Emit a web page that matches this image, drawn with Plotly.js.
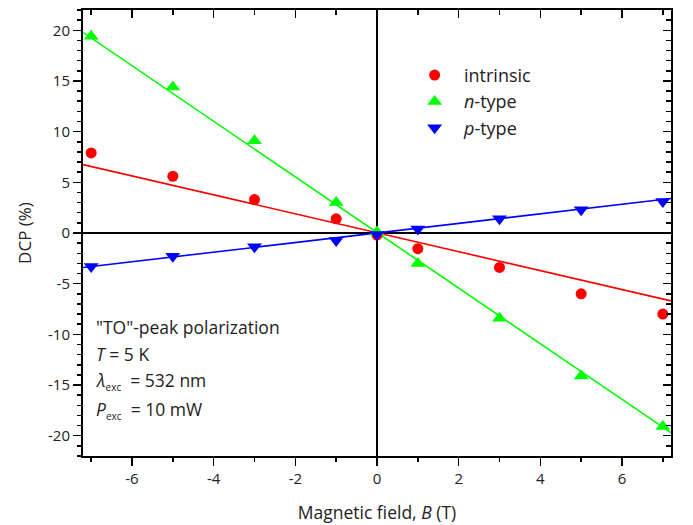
<!DOCTYPE html>
<html>
<head>
<meta charset="utf-8">
<script src="https://cdn.plot.ly/plotly-3.0.1.min.js"></script>
<style>body{margin:0;padding:0;background:#fff}#chart{width:693px;height:525px}</style>
</head>
<body>
<div id="chart"></div>
<script>
// Data
const fieldB = [-7, -5, -3, -1, 0, 1, 3, 5, 7];
const intrinsicDCP = [7.9, 5.6, 3.3, 1.4, -0.2, -1.55, -3.4, -6.0, -8.0];
const nTypeDCP = [19.4, 14.4, 9.1, 3.0, 0.1, -3.0, -8.4, -14.1, -19.1];
const pTypeDCP = [-3.3, -2.3, -1.35, -0.75, -0.15, 0.4, 1.4, 2.3, 3.1];
// linear fit lines (end points)
const fitB = [-7.2, 7.2];
const intrinsicFit = [6.75, -6.7];
const nTypeFit = [19.8, -19.7];
const pTypeFit = [-3.4, 3.4];
const seriesNames = ['\u00a0\u00a0intrinsic', '\u00a0\u00a0<i>n</i>-type', '\u00a0\u00a0<i>p</i>-type'];
// tick labels (hyphen-minus as in the reference)
const xTickVals = [-6, -4, -2, 0, 2, 4, 6];
const xTickText = ['-6', '-4', '-2', '0', '2', '4', '6'];
const yTickVals = [-20, -15, -10, -5, 0, 5, 10, 15, 20];
const yTickText = ['-20', '-15', '-10', '-5', '0', '5', '10', '15', '20'];

const red = '#ff0000', green = '#00ff00', blue = '#0000ff';
const font = 'Open Sans, sans-serif';

const traces = [
  {x: fitB, y: intrinsicFit, mode: 'lines', line: {color: red, width: 1.6}, showlegend: false, hoverinfo: 'skip'},
  {x: fitB, y: nTypeFit, mode: 'lines', line: {color: green, width: 1.6}, showlegend: false, hoverinfo: 'skip'},
  {x: fitB, y: pTypeFit, mode: 'lines', line: {color: blue, width: 1.6}, showlegend: false, hoverinfo: 'skip'},
  {x: fieldB, y: intrinsicDCP, mode: 'markers', name: seriesNames[0], marker: {symbol: 'circle', size: 11, color: red}},
  {x: fieldB, y: nTypeDCP, mode: 'markers', name: seriesNames[1], marker: {symbol: 'triangle-up', size: 13, color: green}},
  {x: fieldB, y: pTypeDCP, mode: 'markers', name: seriesNames[2], marker: {symbol: 'triangle-down', size: 13, color: blue}},
  {x: fitB, y: [0, 0], xaxis: 'x2', yaxis: 'y2', mode: 'lines', line: {width: 0}, showlegend: false, hoverinfo: 'skip'}
];

const xr = [-7.2, 7.2], yr = [-22, 22];
const layout = {
  width: 693, height: 525,
  margin: {l: 83, r: 22, t: 10, b: 69},
  paper_bgcolor: '#fff', plot_bgcolor: '#fff',
  font: {family: font, size: 15, color: '#222'},
  showlegend: true,
  legend: {x: 0.564, y: 0.895, xanchor: 'left', yanchor: 'top', bgcolor: 'rgba(0,0,0,0)',
           font: {family: font, size: 18, color: '#222'}, itemwidth: 30},
  xaxis: {
    range: xr, showgrid: false, zeroline: true, zerolinecolor: '#000', zerolinewidth: 2,
    showline: true, linecolor: '#000', linewidth: 2, mirror: false,
    ticks: 'outside', ticklen: 8, tickwidth: 1.5, tickcolor: '#000',
    tickmode: 'array', tickvals: xTickVals, ticktext: xTickText,
    minor: {tickmode: 'linear', tick0: 0, dtick: 1, ticks: 'outside', ticklen: 4, tickwidth: 1.5, tickcolor: '#000'},
    tickfont: {size: 15},
    title: {text: 'Magnetic field, <i>B</i> (T)', font: {size: 17.5}, standoff: 20}
  },
  yaxis: {
    range: yr, showgrid: false, zeroline: true, zerolinecolor: '#000', zerolinewidth: 2,
    showline: true, linecolor: '#000', linewidth: 2,
    ticks: 'outside', ticklen: 8, tickwidth: 1.5, tickcolor: '#000',
    tickmode: 'array', tickvals: yTickVals, ticktext: yTickText,
    minor: {tickmode: 'linear', tick0: 0, dtick: 1, ticks: 'outside', ticklen: 4, tickwidth: 1.5, tickcolor: '#000'},
    tickfont: {size: 15},
    title: {text: 'DCP (%)', font: {size: 17}, standoff: 12}
  },
  xaxis2: {
    range: xr, overlaying: 'x', side: 'top', showgrid: false, zeroline: false,
    showline: true, linecolor: '#000', linewidth: 2,
    ticks: 'inside', ticklen: 8, tickwidth: 1.5, tickcolor: '#000', dtick: 2, tick0: 0,
    minor: {dtick: 1, ticks: 'inside', ticklen: 5, tickwidth: 1.5, tickcolor: '#000'},
    showticklabels: false
  },
  yaxis2: {
    range: yr, overlaying: 'y', side: 'right', showgrid: false, zeroline: false,
    showline: true, linecolor: '#000', linewidth: 2,
    ticks: 'inside', ticklen: 8, tickwidth: 1.5, tickcolor: '#000', dtick: 5, tick0: 0,
    minor: {dtick: 1, ticks: 'inside', ticklen: 5, tickwidth: 1.5, tickcolor: '#000'},
    showticklabels: false
  },
  annotations: [
    {text: '"TO"-peak polarization', y: 327},
    {text: '<i>T</i> = 5 K', y: 354},
    {text: '<i>λ</i><sub><span style="font-size:10px">exc</span></sub>\u00a0 = 532 nm', y: 381},
    {text: '<i>P</i><sub><span style="font-size:10px">exc</span></sub>\u00a0 = 10 mW', y: 410}
  ].map(a => ({
    text: a.text, xref: 'paper', yref: 'paper', x: 0.019,
    y: (456 - a.y) / 446, xanchor: 'left', yanchor: 'middle', showarrow: false, align: 'left',
    font: {family: font, size: 17.5, color: '#222'}
  }))
};

Plotly.newPlot('chart', traces, layout, {displayModeBar: false, staticPlot: true});
</script>
</body>
</html>
